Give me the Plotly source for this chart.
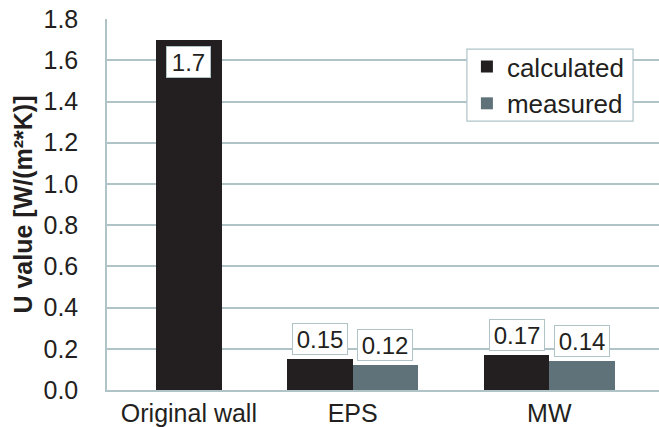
import plotly.graph_objects as go

# U-values of the wall variants
categories = ["Original wall", "EPS", "MW"]
calculated = [1.7, 0.15, 0.17]
measured = [None, 0.12, 0.14]
y_ticks = [0.0, 0.2, 0.4, 0.6, 0.8, 1.0, 1.2, 1.4, 1.6, 1.8]

# group centres on a numeric x axis (the insulated variants sit further apart)
group_x = [0.0, 1.0, 2.2]
bar_w = 0.4

CALC_COLOR = "#231f20"
MEAS_COLOR = "#5f7279"
GRID_COLOR = "#b0c4c8"
TEXT_COLOR = "#231f20"
FONT = "Liberation Sans, Arial, sans-serif"

# a lone bar is centred on its group, paired bars sit side by side
calc_offset = [-bar_w / 2 if m is None else -bar_w for m in measured]
meas_x = [x for x, m in zip(group_x, measured) if m is not None]
meas_y = [m for m in measured if m is not None]

fig = go.Figure()
fig.add_trace(go.Bar(
    x=group_x, y=calculated, width=bar_w, offset=calc_offset,
    marker=dict(color=CALC_COLOR, line=dict(width=0)),
    name="calculated",
))
fig.add_trace(go.Bar(
    x=meas_x, y=meas_y, width=bar_w, offset=0,
    marker=dict(color=MEAS_COLOR, line=dict(width=0)),
    name="measured",
))


def value_box(x, v, inside):
    text = f"{v:g}"
    fig.add_annotation(
        x=x, y=v, text=text, showarrow=False,
        yanchor="top" if inside else "bottom", yshift=-6 if inside else 4,
        width=11 * len(text) + 10, height=30,
        bgcolor="white", bordercolor=GRID_COLOR, borderwidth=1, borderpad=0,
        font=dict(family=FONT, size=24, color=TEXT_COLOR),
    )


# value boxes: inside the tall bar, above the short ones
for x, v, off in zip(group_x, calculated, calc_offset):
    value_box(x + off + bar_w / 2, v, v > 1.0)
for x, v in zip(meas_x, meas_y):
    value_box(x + bar_w / 2, v, False)

# frame behind the legend entries
fig.add_shape(type="rect", xref="paper", yref="paper",
              x0=0.652, x1=0.953, y0=0.725, y1=0.919,
              fillcolor="white", line=dict(color=GRID_COLOR, width=1.2), layer="above")

fig.update_layout(
    width=659, height=427,
    margin=dict(l=107, r=0, t=19, b=37),
    paper_bgcolor="white", plot_bgcolor="white",
    font=dict(family=FONT, size=24, color=TEXT_COLOR),
    showlegend=True,
    legend=dict(
        x=0.652, y=0.935, xanchor="left", yanchor="top",
        bgcolor="rgba(0,0,0,0)", borderwidth=0,
        font=dict(family=FONT, size=26, color=TEXT_COLOR),
        tracegroupgap=0, itemwidth=30,
    ),
    bargap=0, barmode="overlay",
)
fig.update_xaxes(
    range=[-0.5, 2.87], tickmode="array", tickvals=group_x, ticktext=categories,
    showgrid=False, showline=True, linecolor=GRID_COLOR, linewidth=1.5,
    ticks="", tickfont=dict(family=FONT, size=25, color=TEXT_COLOR), zeroline=False,
)
fig.update_yaxes(
    range=[0, 1.8005], tickmode="array", tickvals=y_ticks,
    ticktext=[f"{t:.1f}" for t in y_ticks],
    showgrid=True, gridcolor=GRID_COLOR, gridwidth=1.5,
    showline=True, linecolor=GRID_COLOR, linewidth=1.5, zeroline=False,
    ticks="", ticklabelstandoff=22,
    tickfont=dict(family=FONT, size=25, color=TEXT_COLOR),
    title=dict(text="<b>U value [W/(m²*K)]</b>", standoff=4,
               font=dict(family=FONT, size=25, color=TEXT_COLOR)),
)

fig.write_html("out.html")
